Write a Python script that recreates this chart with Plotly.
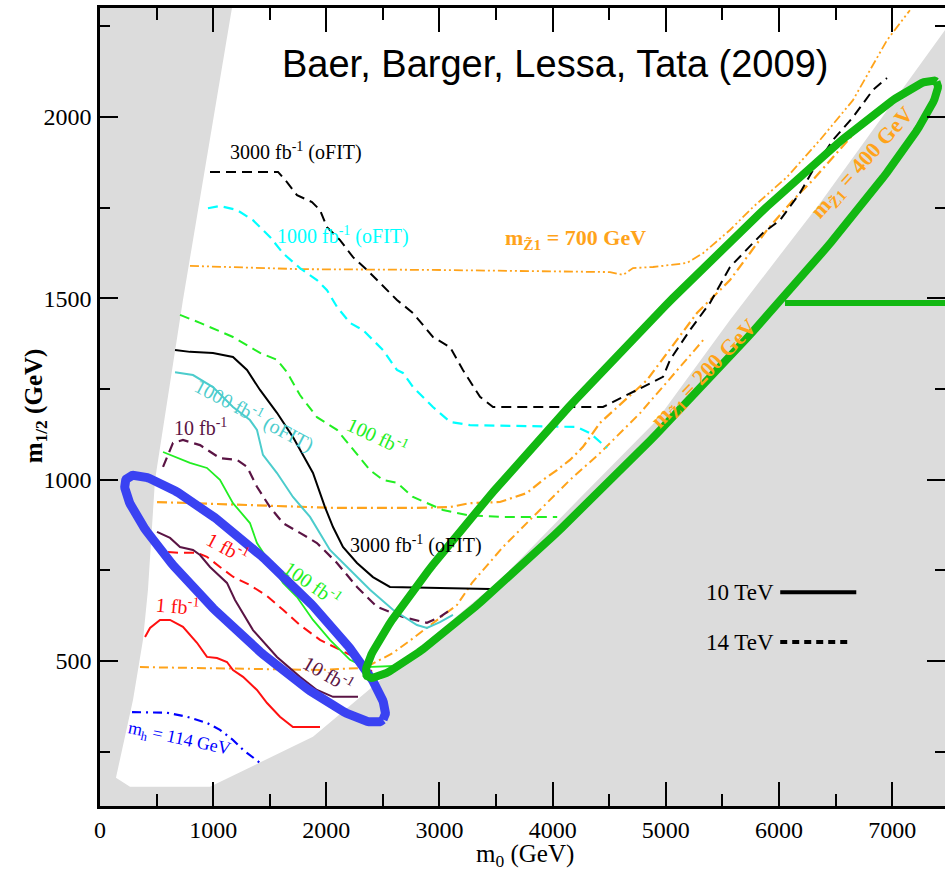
import numpy as np
import plotly.graph_objects as go

# ---------------- data (m0, m1/2 in GeV) ----------------
# allowed (white) region boundary
allowed_x = [1166, 733, 486, 424, 380, 292, 141, 265, 972, 1882, 2651, 3534, 4241, 4922, 5567, 6362, 7466, 7500, 7500]
allowed_y = [2300, 1495, 999, 696, 558, 393, 178, 153, 153, 291, 492, 723, 949, 1164, 1440, 1762, 2239, 2253, 2300]

# 14 TeV reach (dashed)
r3000_14_x = [972, 1573, 1652, 1741, 1873, 1944, 2006, 2121, 2236, 2359, 2474, 2624, 2766, 2942, 3093, 3207, 3358, 3473,
              4445, 4568, 4798, 4975, 5037, 5213, 5390, 5567, 5770, 5858, 6009, 6185, 6300, 6477, 6654, 6830, 6954]
r3000_14_y = [1848, 1848, 1820, 1784, 1765, 1743, 1696, 1660, 1613, 1578, 1542, 1495, 1459, 1393, 1365, 1302, 1228, 1200,
              1200, 1219, 1255, 1283, 1330, 1412, 1487, 1586, 1652, 1680, 1715, 1790, 1853, 1936, 1999, 2074, 2107]
r1000_14_x = [954, 1060, 1211, 1352, 1502, 1617, 1767, 1917, 2006, 2094, 2209, 2324, 2501, 2624, 2677, 2766, 2942, 3093,
              3269, 4215, 4330, 4480]
r1000_14_y = [1748, 1754, 1743, 1715, 1669, 1624, 1583, 1550, 1522, 1476, 1432, 1412, 1357, 1302, 1294, 1255, 1200, 1159,
              1150, 1145, 1128, 1087]
r100_14_x = [707, 884, 1175, 1414, 1564, 1652, 1767, 1917, 2094, 2236, 2386, 2501, 2624, 2766, 2889, 3031, 3243, 3534, 4040]
r100_14_y = [1454, 1432, 1393, 1349, 1330, 1296, 1233, 1172, 1137, 1082, 1026, 999, 991, 952, 935, 916, 902, 897, 897]
r10_14_x = [557, 592, 645, 733, 884, 1060, 1211, 1299, 1387, 1502, 1617, 1767, 1917, 2094, 2271, 2448, 2677, 2889, 3004, 3119]
r10_14_y = [1035, 1062, 1101, 1109, 1095, 1059, 1054, 1035, 980, 924, 880, 853, 825, 770, 704, 649, 621, 605, 621, 646]
r1_14_x = [601, 707, 857, 945, 1060, 1175, 1325, 1476, 1617, 1767, 1944, 2121, 2297, 2403]
r1_14_y = [800, 798, 798, 787, 759, 732, 709, 679, 641, 599, 558, 530, 503, 470]

# 10 TeV reach (solid)
r3000_10_x = [663, 795, 998, 1175, 1299, 1414, 1564, 1705, 1882, 1944, 1988, 2059, 2147, 2271, 2412, 2562, 3446]
r3000_10_y = [1357, 1352, 1349, 1338, 1302, 1247, 1184, 1117, 1018, 963, 924, 869, 814, 770, 731, 704, 698]
r1000_10_x = [663, 822, 998, 1175, 1325, 1387, 1440, 1564, 1705, 1856, 2032, 2209, 2386, 2589, 2801, 2889, 3004, 3119]
r1000_10_y = [1296, 1288, 1255, 1200, 1164, 1137, 1068, 1018, 952, 897, 806, 751, 696, 641, 599, 591, 607, 627]
r100_10_x = [557, 795, 945, 1060, 1175, 1325, 1387, 1502, 1617, 1741, 1882, 2032, 2209, 2342, 2600]
r100_10_y = [1076, 1046, 1032, 999, 935, 880, 825, 770, 715, 676, 613, 558, 503, 483, 486]
r10_10_x = [504, 619, 707, 822, 884, 972, 1122, 1193, 1352, 1564, 1767, 1917, 2059, 2280]
r10_10_y = [856, 839, 814, 806, 792, 759, 715, 668, 585, 511, 456, 420, 401, 401]
r1_10_x = [398, 442, 530, 619, 733, 857, 945, 1034, 1122, 1175, 1264, 1387, 1476, 1590, 1705, 1944]
r1_10_y = [566, 591, 613, 613, 594, 550, 511, 508, 497, 475, 456, 420, 384, 346, 318, 318]

# m_h = 114 GeV contour
mh_x = [283, 380, 592, 769, 945, 1060, 1175, 1264, 1352, 1414]
mh_y = [359, 359, 357, 346, 329, 310, 282, 255, 233, 219]

# neutralino mass contours
z700_x = [795, 1767, 2916, 4507, 4622, 4710, 4887, 5187, 5329, 5567, 5770, 6071, 6362, 6654, 6954, 7157]
z700_y = [1589, 1580, 1578, 1572, 1564, 1583, 1586, 1597, 1624, 1688, 1751, 1834, 1936, 2046, 2211, 2294]
z400_x = [504, 1325, 2059, 2801, 3093, 3269, 3534, 3773, 3914, 4038, 4153, 4268, 4418, 4833, 5275, 5567, 5894, 6123, 6300, 6715]
z400_y = [938, 930, 922, 922, 924, 935, 938, 963, 999, 1026, 1054, 1090, 1156, 1274, 1459, 1550, 1688, 1770, 1826, 1972]
z200_x = [353, 1325, 1944, 2342, 2589, 2713, 2942, 3154, 3287, 3561, 3861, 4153, 4418, 4772, 5346]
z200_y = [483, 478, 475, 481, 522, 550, 605, 654, 715, 814, 908, 999, 1073, 1183, 1390]

# highlight ellipses: centre, semi-axis vectors (GeV units)
blue_c, blue_a, blue_b = (1370, 671), (1131, -333), (218, 72)
green_c, green_a, green_b = (4877, 1277), (2514, 820), (265, -79)
green_bar_x = [6053, 7467]
green_bar_y = [1487, 1487]

x_ticks = [0, 1000, 2000, 3000, 4000, 5000, 6000, 7000]
y_ticks = [500, 1000, 1500, 2000]

# ---------------- styling ----------------
SERIF = "Liberation Serif, Times New Roman, serif"
GRAY = "#dcdcdc"
ORANGE = "#ffa31a"
CYAN = "#00ffff"
TEAL = "#4ccccc"
LIME = "#22ee22"
MAROON = "#5a1444"
RED = "#ff1010"

fig = go.Figure()

def add_line(x, y, color, width=1.8, dash="solid"):
    fig.add_trace(go.Scatter(x=x, y=y, mode="lines", hoverinfo="skip",
                             line=dict(color=color, width=width, dash=dash)))

fig.add_trace(go.Scatter(x=allowed_x, y=allowed_y, mode="lines", fill="toself",
                         fillcolor="white", line=dict(width=0, color="white"), hoverinfo="skip"))

DASH = "10px,6px"
add_line(z700_x, z700_y, ORANGE, 1.8, "9px,3px,2px,3px,2px,3px")
add_line(z400_x, z400_y, ORANGE, 2.2, "10px,4px,2px,4px")
add_line(z200_x, z200_y, ORANGE, 2.0, "9px,4px,2px,4px")

add_line(r3000_14_x, r3000_14_y, "black", 2.0, DASH)
add_line(r1000_14_x, r1000_14_y, CYAN, 2.2, DASH)
add_line(r100_14_x, r100_14_y, LIME, 2.0, DASH)
add_line(r10_14_x, r10_14_y, MAROON, 2.2, DASH)
add_line(r1_14_x, r1_14_y, RED, 2.0, DASH)

add_line(r3000_10_x, r3000_10_y, "black", 2.0)
add_line(r1000_10_x, r1000_10_y, TEAL, 2.0)
add_line(r100_10_x, r100_10_y, LIME, 1.8)
add_line(r10_10_x, r10_10_y, MAROON, 2.0)
add_line(r1_10_x, r1_10_y, RED, 2.0)

add_line(mh_x, mh_y, "#0000ff", 2.2, "9px,5px,2px,5px")

t = np.linspace(0, 2 * np.pi, 240)
for (c, a, b), col, w in [((blue_c, blue_a, blue_b), "#3a42f2", 9),
                          ((green_c, green_a, green_b), "#12b812", 8)]:
    ex = c[0] + a[0] * np.cos(t) + b[0] * np.sin(t)
    ey = c[1] + a[1] * np.cos(t) + b[1] * np.sin(t)
    add_line(ex, ey, col, w)
add_line(green_bar_x, green_bar_y, "#12b812", 6)

# ---------------- text ----------------
def label(x, y, text, color, size=20, angle=0, bold=False):
    if bold:
        text = "<b>" + text + "</b>"
    fig.add_annotation(x=x, y=y, text=text, showarrow=False, textangle=angle,
                       font=dict(family=SERIF, size=size, color=color),
                       xanchor="center", yanchor="middle")

label(1732, 1905, "3000 fb<sup>-1</sup> (oFIT)", "black", 20)
label(2150, 1672, "1000 fb<sup>-1</sup> (oFIT)", CYAN, 20)
label(4200, 1662, "m<sub>Z̃1</sub> = 700 GeV", ORANGE, 22, 0, True)
label(1370, 1180, "1000 fb<sup>-1</sup> (oFIT)", TEAL, 20, 28)
label(884, 1145, "10 fb<sup>-1</sup>", MAROON, 20)
label(2448, 1123, "100 fb<sup>-1</sup>", LIME, 20, 25)
label(2792, 822, "3000 fb<sup>-1</sup> (oFIT)", "black", 20)
label(1131, 814, "1 fb<sup>-1</sup>", RED, 20, 28)
label(1882, 715, "100 fb<sup>-1</sup>", LIME, 20, 35)
label(689, 655, "1 fb<sup>-1</sup>", RED, 20, 5)
label(2015, 467, "10 fb<sup>-1</sup>", MAROON, 20, 30)
label(698, 284, "m<sub>h</sub> = 114 GeV", "#0000ff", 18, 12)
label(5346, 1290, "m<sub>Z̃1</sub> = 200 GeV", ORANGE, 22, -46, True)
label(6742, 1873, "m<sub>Z̃1</sub> = 400 GeV", ORANGE, 22, -48, True)

# title
fig.add_annotation(x=0.538, y=0.93, xref="paper", yref="paper", showarrow=False,
                   text="Baer, Barger, Lessa, Tata (2009)",
                   font=dict(family="Liberation Sans, Arial, sans-serif", size=38, color="black"),
                   xanchor="center", yanchor="middle")

# legend
for ytxt, txt, dash, x1 in [(0.268, "10 TeV", "solid", 0.895), (0.2055, "14 TeV", "7px,5px", 0.889)]:
    fig.add_annotation(x=0.800, y=ytxt, xref="paper", yref="paper", showarrow=False, text=txt,
                       font=dict(family=SERIF, size=23, color="black"), xanchor="right", yanchor="middle")
    fig.add_shape(type="line", xref="paper", yref="paper", x0=0.805, x1=x1, y0=ytxt, y1=ytxt,
                  line=dict(color="black", width=4, dash=dash))

# axis titles
fig.add_annotation(x=0.503, y=-0.062, xref="paper", yref="paper", showarrow=False,
                   text="m<sub>0</sub> (GeV)", font=dict(family=SERIF, size=25, color="black"),
                   xanchor="center", yanchor="middle")
fig.add_annotation(x=-0.077, y=0.502, xref="paper", yref="paper", showarrow=False, textangle=-90,
                   text="<b>m<sub>1/2</sub> (GeV)</b>", font=dict(family=SERIF, size=25, color="black"),
                   xanchor="center", yanchor="middle")

axis_common = dict(showgrid=False, zeroline=False, ticks="inside", linecolor="black", linewidth=2.5,
                   tickcolor="black", tickwidth=2, tickfont=dict(family=SERIF, size=24, color="black"))

fig.update_layout(
    width=945, height=885,
    margin=dict(l=100, r=0, t=8, b=79),
    paper_bgcolor="white", plot_bgcolor=GRAY,
    showlegend=False,
    xaxis=dict(range=[0, 7467], tickvals=x_ticks, ticklen=24, showline=True, mirror="ticks",
               minor=dict(dtick=500, tick0=0, ticklen=12, ticks="inside", tickcolor="black", tickwidth=2),
               ticklabelstandoff=0, **axis_common),
    yaxis=dict(range=[100, 2300], tickvals=y_ticks, ticklen=18, showline=True, mirror=False,
               minor=dict(dtick=250, tick0=0, ticklen=10, ticks="inside", tickcolor="black", tickwidth=2),
               ticklabelstandoff=1, **axis_common),
    yaxis2=dict(range=[100, 2300], overlaying="y", side="right", tickvals=y_ticks, ticklen=18,
                ticks="inside", showline=False, showgrid=False, zeroline=False, showticklabels=False,
                tickcolor="black", tickwidth=2,
                minor=dict(dtick=250, tick0=0, ticklen=10, ticks="inside", tickcolor="black", tickwidth=2)),
)
# dummy trace to activate yaxis2
fig.add_trace(go.Scatter(x=[None], y=[None], yaxis="y2", showlegend=False, hoverinfo="skip"))

fig.write_html("out.html")
